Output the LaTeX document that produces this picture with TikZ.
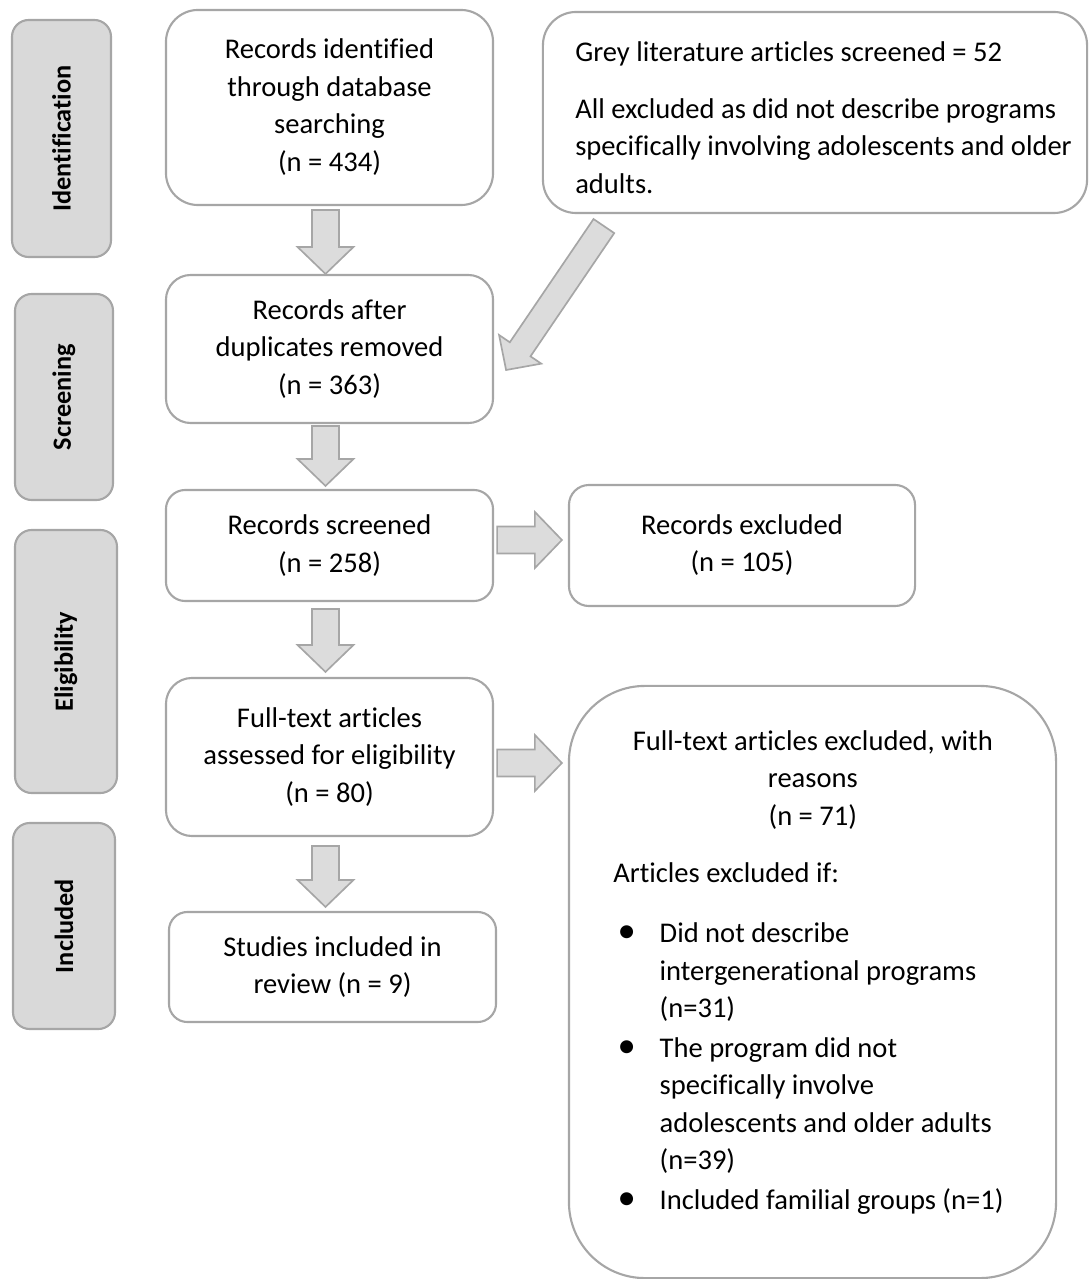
\documentclass[tikz,border=0pt]{standalone}
\usepackage{fontspec}
\setmainfont{Carlito}[Ligatures=NoCommon]
\usetikzlibrary{calc}
\definecolor{edgegray}{HTML}{A6A6A6}
\definecolor{labfill}{HTML}{D9D9D9}
\definecolor{arrfill}{HTML}{DCDCDC}
\newcommand{\blockarrow}[5]{%
  \path (#2) coordinate (ah-tip) ($(#2)!#5!(#1)$) coordinate (ah-base);
  \draw[blk] ($(#1)!#3!-90:(#2)$) -- ($(ah-base)!#3!90:(#1)$) -- ($(ah-base)!#4!90:(#1)$)
     -- (ah-tip) -- ($(ah-base)!#4!-90:(#1)$) -- ($(ah-base)!#3!-90:(#1)$)
     -- ($(#1)!#3!90:(#2)$) -- cycle;}
\newcommand{\bul}{\makebox[33pt][l]{\hspace{3pt}{\fontsize{26}{26}\selectfont\textbullet}}}
\begin{document}
\begin{tikzpicture}[x=0.025cm,y=-0.025cm,
  box/.style={draw=edgegray, line width=1.5pt, fill=white, align=center,
    font=\fontsize{20.3}{26.7}\selectfont, inner sep=0pt},
  side/.style={draw=edgegray, line width=1.5pt, fill=labfill, inner sep=0pt,
    rotate=90, rounded corners=0.42cm, font=\bfseries\fontsize{18.7}{22}\selectfont},
  blk/.style={draw=edgegray, line width=1.2pt, fill=arrfill, line join=miter}]
\useasboundingbox (0,0) rectangle (1089,1279);

% side labels
\node[side, minimum width=5.925cm, minimum height=2.475cm] (sid) at (61.5,138.5) {Identification};
\node[side, minimum width=5.15cm, minimum height=2.45cm] (ssc) at (64,397) {Screening};
\node[side, minimum width=6.575cm, minimum height=2.55cm] (sel) at (66,661.5) {Eligibility};
\node[side, minimum width=5.15cm, minimum height=2.55cm] (sin) at (64,926) {Included};

% main column
\node[box, rounded corners=0.8cm, minimum width=8.175cm, minimum height=4.875cm] (b1) at (329.5,107.5)
  {\raisebox{2pt}{\begin{tabular}{@{}c@{}}Records identified\\through database\\searching\\(n = 434)\end{tabular}}};
\node[box, rounded corners=0.62cm, minimum width=8.175cm, minimum height=3.7cm] (b2) at (329.5,349)
  {Records after\\duplicates removed\\(n = 363)};
\node[box, rounded corners=0.48cm, minimum width=8.175cm, minimum height=2.775cm] (b3) at (329.5,545.5)
  {Records screened\\(n = 258)};
\node[box, rounded corners=0.65cm, minimum width=8.175cm, minimum height=3.95cm] (b4) at (329.5,757)
  {Full-text articles\\assessed for eligibility\\(n = 80)};
\node[box, rounded corners=0.46cm, minimum width=8.175cm, minimum height=2.75cm] (b5) at (332.5,967)
  {Studies included in\\review (n = 9)};

% right column
\node[box, rounded corners=0.83cm, minimum width=13.6cm, minimum height=5.025cm] (grey) at (815,112.5) {};
\node[anchor=north west, align=left, inner sep=0pt, font=\fontsize{20.3}{26.7}\selectfont] (greytext) at (575,41)
  {Grey literature articles screened = 52\\[14pt]All excluded as did not describe programs\\specifically involving adolescents and older\\adults.};
\node[box, rounded corners=0.5cm, minimum width=8.65cm, minimum height=3.025cm] (recx) at (742,545.5)
  {\raisebox{5pt}{\begin{tabular}{@{}c@{}}Records excluded\\(n = 105)\end{tabular}}};
\node[box, rounded corners=1.9cm, minimum width=12.175cm, minimum height=14.8cm] (big) at (812.5,982) {};
\node[anchor=north west, inner sep=0pt, font=\fontsize{20.3}{26.7}\selectfont] (bigtext) at (613,730)
  {\begin{minipage}[t]{9.975cm}\fontsize{20.3}{26.7}\selectfont
  {\centering Full-text articles excluded, with\\reasons\\(n = 71)\par}
  \raggedright\vspace{14pt}Articles excluded if:\par
  \vspace{16pt}\hangindent=33pt\hangafter=1\bul Did not describe\newline intergenerational programs\newline (n=31)\par
  \vspace{1.5pt}\hangindent=33pt\hangafter=1\bul The program did not\newline specifically involve\newline adolescents and older adults\newline (n=39)\par
  \vspace{1.5pt}\hangindent=33pt\hangafter=1\bul Included familial groups (n=1)\par
  \end{minipage}};

% arrow end points
\coordinate (a1s) at ($(b1.south)+(-4,4)$);
\coordinate (a1e) at ($(b2.north)+(-4,0)$);
\coordinate (a2s) at ($(b2.south)+(-4,2)$);
\coordinate (a2e) at ($(b3.north)+(-4,-3)$);
\coordinate (a3s) at ($(b3.south)+(-4,7)$);
\coordinate (a3e) at ($(b4.north)+(-4,-5)$);
\coordinate (a4s) at ($(b4.south)+(-4,9)$);
\coordinate (a4e) at ($(b5.north)+(-7,-4)$);
\coordinate (r1s) at ($(b3.east)+(3,-5.5)$);
\coordinate (r1e) at ($(recx.west)+(-6,-5.5)$);
\coordinate (r2s) at ($(b4.east)+(3,6)$);
\coordinate (r2e) at ($(b4.east -| big.west)+(-6,6)$);
\coordinate (gs) at ($(grey.south west)+(62,12)$);
\coordinate (ge) at ($(b2.east)+(12,21)$);

\blockarrow{a1s}{a1e}{0.3375cm}{0.7cm}{0.675cm}
\blockarrow{a2s}{a2e}{0.3375cm}{0.7cm}{0.675cm}
\blockarrow{a3s}{a3e}{0.3375cm}{0.7cm}{0.675cm}
\blockarrow{a4s}{a4e}{0.3375cm}{0.7cm}{0.675cm}
\blockarrow{r1s}{r1e}{0.3375cm}{0.7cm}{0.675cm}
\blockarrow{r2s}{r2e}{0.3375cm}{0.7cm}{0.675cm}
\blockarrow{gs}{ge}{0.3125cm}{0.6375cm}{0.625cm}
\end{tikzpicture}
\end{document}
